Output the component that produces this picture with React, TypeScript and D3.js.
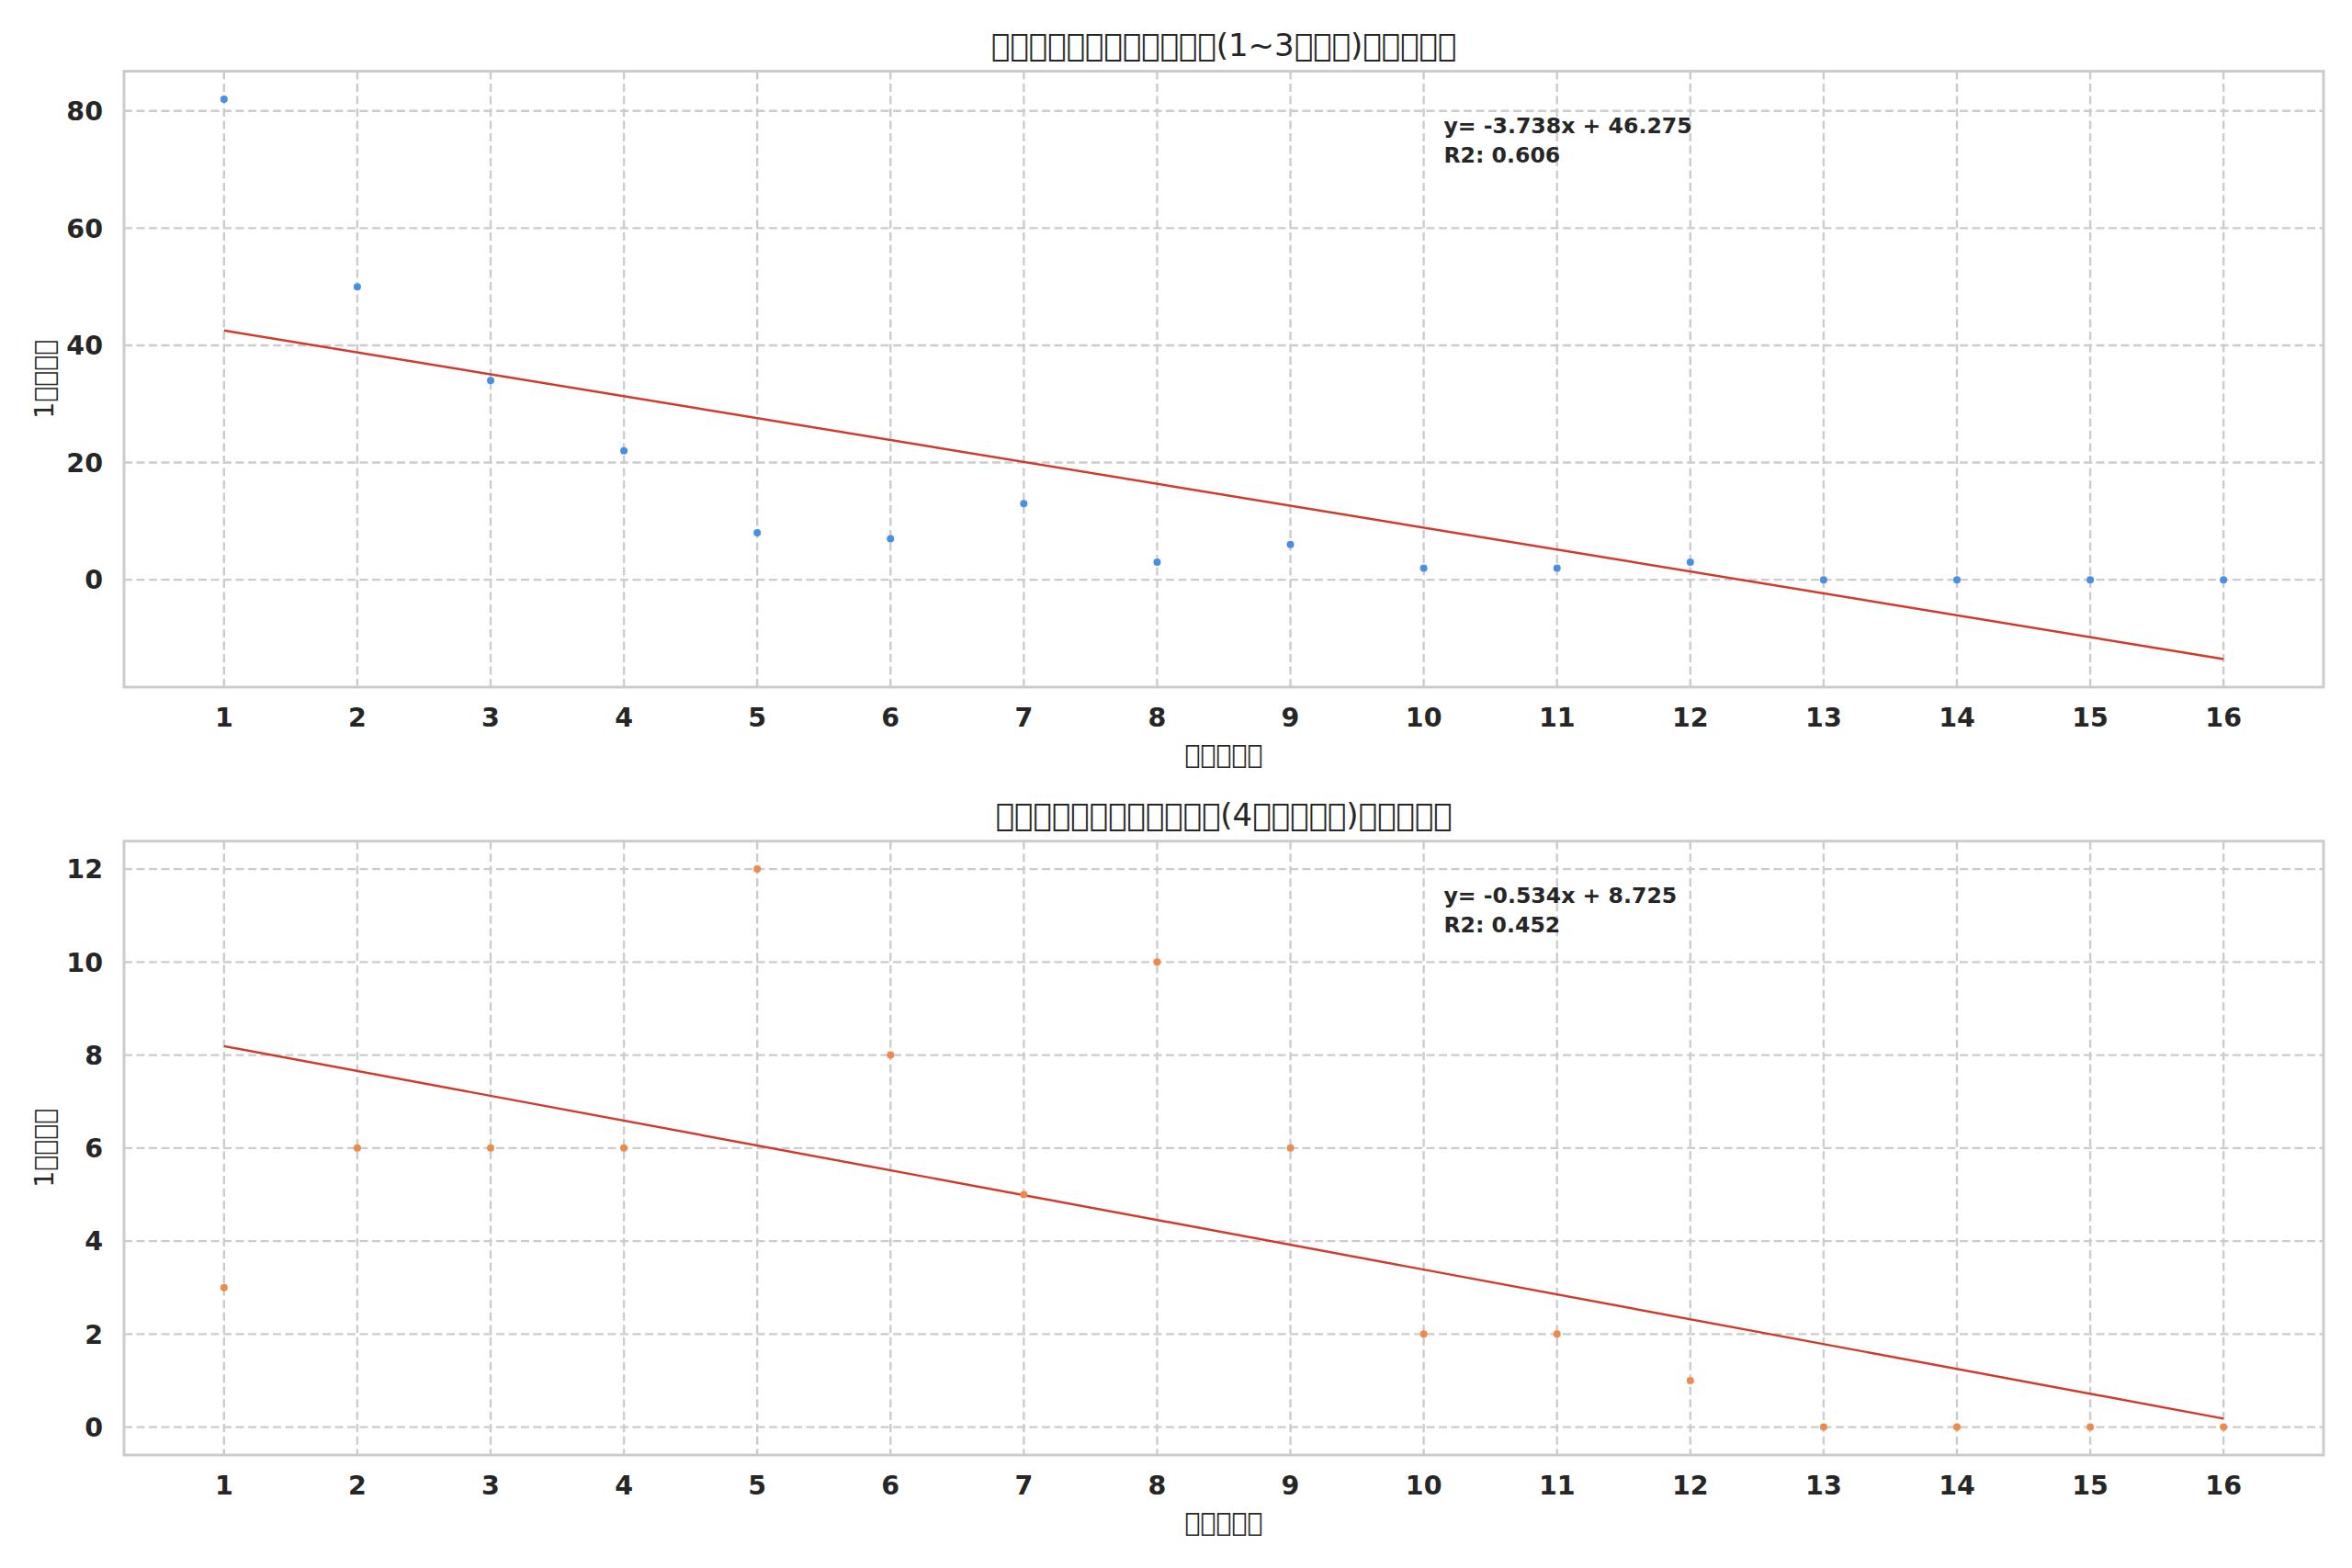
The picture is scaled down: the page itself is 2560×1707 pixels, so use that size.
import React from "react";
import * as d3 from "d3";

// missing-glyph boxes, as in the original render
const B = "\uE000";
const box = (n: number) => B.repeat(n);

const weeks = d3.range(1, 17);
const earlyValues = [82, 50, 34, 22, 8, 7, 13, 3, 6, 2, 2, 3, 0, 0, 0, 0];
const lateValues = [3, 6, 6, 6, 12, 8, 5, 10, 6, 2, 2, 1, 0, 0, 0, 0];
const titles = [
  box(12) + "(1~3" + box(3) + ")" + box(5),
  box(12) + "(4" + box(5) + ")" + box(5),
];
const xLabel = box(5);
const yLabel = "1" + box(4);
const earlyTicks = [0, 20, 40, 60, 80];
const lateTicks = [0, 2, 4, 6, 8, 10, 12];

const W = 2560;
const H = 1707;
const left = 135;
const right = 2529;
const TEXT = "#262626";
const GRID = "#cccccc";
const FONT = "'DejaVu Sans', sans-serif";

function fit(xs: number[], ys: number[]) {
  const mx = d3.mean(xs)!;
  const my = d3.mean(ys)!;
  let sxy = 0, sxx = 0, syy = 0;
  xs.forEach((x, i) => {
    sxy += (x - mx) * (ys[i] - my);
    sxx += (x - mx) ** 2;
    syy += (ys[i] - my) ** 2;
  });
  const slope = sxy / sxx;
  return { slope, intercept: my - slope * mx, r2: (sxy * sxy) / (sxx * syy) };
}

interface PanelProps {
  top: number;
  bottom: number;
  values: number[];
  color: string;
  ticks: number[];
  title: string;
}

const Panel: React.FC<PanelProps> = ({ top, bottom, values, color, ticks, title }) => {
  const { slope, intercept, r2 } = fit(weeks, values);
  const lineY = weeks.map(w => slope * w + intercept);
  const lo = Math.min(d3.min(values)!, d3.min(lineY)!);
  const hi = Math.max(d3.max(values)!, d3.max(lineY)!);
  const pad = (hi - lo) * 0.05;

  const x = d3.scaleLinear().domain([0.25, 16.75]).range([left, right]);
  const y = d3.scaleLinear().domain([lo - pad, hi + pad]).range([bottom, top]);
  const line = d3.line<number>().x(w => x(w)).y(w => y(slope * w + intercept));
  const sign = intercept >= 0 ? "+" : "-";

  return (
    <g>
      {/* grid */}
      {weeks.map(w => (
        <line key={"gx" + w} x1={x(w)} x2={x(w)} y1={top} y2={bottom}
          stroke={GRID} strokeWidth={2.4} strokeDasharray="9 4.5" />
      ))}
      {ticks.map(t => (
        <line key={"gy" + t} x1={left} x2={right} y1={y(t)} y2={y(t)}
          stroke={GRID} strokeWidth={2.4} strokeDasharray="9 4.5" />
      ))}
      {/* frame */}
      <rect x={left} y={top} width={right - left} height={bottom - top}
        fill="none" stroke={GRID} strokeWidth={3} />
      {/* fit line */}
      <path d={line([1, 16]) as string} fill="none" stroke="#d0392b" strokeWidth={2.4} />
      {/* points */}
      {values.map((v, i) => (
        <circle key={i} cx={x(weeks[i])} cy={y(v)} r={4} fill={color} />
      ))}
      {/* tick labels */}
      {weeks.map(w => (
        <text key={"tx" + w} x={x(w)} y={bottom + 43} textAnchor="middle"
          fontFamily={FONT} fontWeight="bold" fontSize={28.5} fill={TEXT}>{w}</text>
      ))}
      {ticks.map(t => (
        <text key={"ty" + t} x={left - 23} y={y(t)} dy="0.36em" textAnchor="end"
          fontFamily={FONT} fontWeight="bold" fontSize={28.5} fill={TEXT}>{t}</text>
      ))}
      {/* labels */}
      <text x={(left + right) / 2} y={top - 17} textAnchor="middle"
        fontFamily={FONT} fontSize={34} fill={TEXT}>{title}</text>
      <text x={(left + right) / 2} y={bottom + 83} textAnchor="middle"
        fontFamily={FONT} fontSize={28.3} fill={TEXT}>{xLabel}</text>
      <text transform={`translate(58,${(top + bottom) / 2}) rotate(-90)`} textAnchor="middle"
        fontFamily={FONT} fontSize={28.3} fill={TEXT}>{yLabel}</text>
      {/* annotation */}
      <text x={left + 0.6 * (right - left)} y={top + 67} fontFamily={FONT}
        fontWeight="bold" fontSize={23.6} fill={TEXT}>
        <tspan>{`y= ${slope.toFixed(3)}x ${sign} ${Math.abs(intercept).toFixed(3)}`}</tspan>
        <tspan x={left + 0.6 * (right - left)} dy={32}>{`R2: ${r2.toFixed(3)}`}</tspan>
      </text>
    </g>
  );
};

export default function App() {
  return (
    <svg width={W} height={H} style={{ position: "absolute", left: 0, top: 0, background: "#fff" }}>
      <rect width={W} height={H} fill="#fff" />
      <Panel top={77.5} bottom={748} values={earlyValues} color="#4a90e2" ticks={earlyTicks} title={titles[0]} />
      <Panel top={915.7} bottom={1584} values={lateValues} color="#ee8a4c" ticks={lateTicks} title={titles[1]} />
    </svg>
  );
}
